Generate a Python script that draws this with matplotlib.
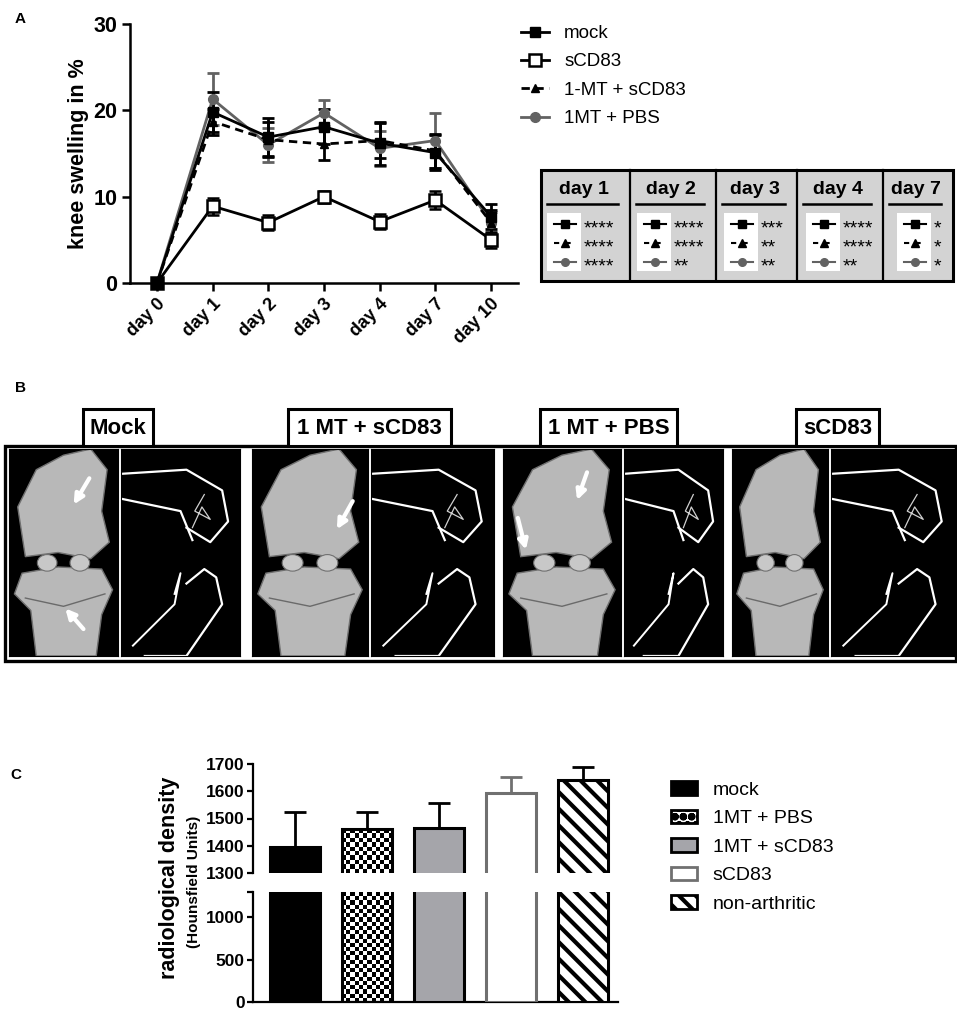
import matplotlib
matplotlib.use("Agg")
import matplotlib.pyplot as plt
from matplotlib.patches import Rectangle, Polygon, Ellipse, Patch
import numpy as np

plt.rcParams['font.family'] = ['Liberation Sans', 'DejaVu Sans']
plt.rcParams['hatch.linewidth'] = 3.0

# ---- data: panel A (knee swelling) ----
days = ['day 0', 'day 1', 'day 2', 'day 3', 'day 4', 'day 7', 'day 10']
mock = [0, 19.8, 16.9, 18.1, 16.2, 15.1, 7.7]
mock_err = [0, 2.3, 2.2, 2.0, 2.5, 2.0, 1.5]
scd83 = [0, 8.9, 7.0, 10.0, 7.1, 9.6, 5.0]
scd83_err = [0, 1.0, 0.9, 0.7, 0.9, 1.0, 0.9]
mt_scd83 = [0, 18.7, 16.6, 16.1, 16.5, 15.3, 7.0]
mt_scd83_err = [0, 1.5, 2.0, 1.8, 2.0, 2.0, 1.5]
mt_pbs = [0, 21.3, 16.0, 19.7, 15.6, 16.5, 7.0]
mt_pbs_err = [0, 3.0, 2.0, 1.5, 2.0, 3.2, 1.2]

# significance table
sig_days = ['day 1', 'day 2', 'day 3', 'day 4', 'day 7']
sig_mock = ['****', '****', '***', '****', '*']
sig_mt_scd83 = ['****', '****', '**', '****', '*']
sig_mt_pbs = ['****', '**', '**', '**', '*']

# ---- panel B labels ----
ct_groups = ['Mock', '1 MT + sCD83', '1 MT + PBS', 'sCD83']

# ---- data: panel C (radiological density) ----
groups_c = ['mock', '1MT + PBS', '1MT + sCD83', 'sCD83', 'non-arthritic']
density = [1395, 1461, 1465, 1594, 1641]
density_err = [128, 63, 92, 58, 48]

W, H = 957, 1010
fig = plt.figure(figsize=(W / 100, H / 100), dpi=100)


def pax(x0, y0, x1, y1, **kw):
    return fig.add_axes([x0 / W, 1 - y1 / H, (x1 - x0) / W, (y1 - y0) / H], **kw)


ov = pax(0, 0, W, H)
ov.set_xlim(0, W)
ov.set_ylim(H, 0)
ov.axis('off')

# panel letters
for letter, (x, y) in zip('ABC', [(20, 19), (20, 388), (16, 775)]):
    ov.text(x, y, letter, fontsize=11, fontweight='bold', ha='center', va='center')

# ================= Panel A =================
axA = pax(130, 24, 518, 283)
xs = np.arange(len(days))
gray = '#626262'
ebkw = dict(capsize=4.5, capthick=2, elinewidth=2, clip_on=False)
e_pbs = axA.errorbar(xs, mt_pbs, yerr=mt_pbs_err, color=gray, marker='o', ms=7,
                     lw=2, **ebkw)
e_mts = axA.errorbar(xs, mt_scd83, yerr=mt_scd83_err, color='black', marker='^', ms=6,
                     lw=2, ls=(0, (3, 2)), **ebkw)
e_scd = axA.errorbar(xs, scd83, yerr=scd83_err, color='black', marker='s', ms=8,
                     mfc='white', mew=1.8, lw=2, **ebkw)
e_mock = axA.errorbar(xs, mock, yerr=mock_err, color='black', marker='s', ms=7,
                      lw=2, **ebkw)
axA.set_xlim(-0.485, 6.485)
axA.set_ylim(0, 30)
axA.set_yticks([0, 10, 20, 30])
axA.set_xticks(xs)
axA.set_xticklabels(days, rotation=45, ha='right', rotation_mode='anchor',
                    fontsize=13, fontweight='bold')
for lab in axA.get_yticklabels():
    lab.set_fontsize(15.5)
    lab.set_fontweight('bold')
for s in ['top', 'right']:
    axA.spines[s].set_visible(False)
for s in ['left', 'bottom']:
    axA.spines[s].set_linewidth(1.8)
axA.tick_params(width=1.8, length=6, direction='out', pad=3)
axA.set_ylabel('knee swelling in %', fontsize=15.5, fontweight='bold')
axA.yaxis.set_label_coords(-0.105, 0.5)

fig.legend([e_mock.lines[0], e_scd.lines[0], e_mts.lines[0], e_pbs.lines[0]],
           ['mock', 'sCD83', '1-MT + sCD83', '1MT + PBS'],
           loc='upper left', bbox_to_anchor=(521 / W, 1 - 25 / H), frameon=False,
           fontsize=13.5, handlelength=1.5, handletextpad=0.8, labelspacing=0.6,
           borderpad=0, borderaxespad=0)

# significance table
cols = [541, 630, 716, 797, 883, 953]
tb_top, tb_bot = 170, 281
box_left = [547, 637, 724, 806, 897]
ov.add_patch(Rectangle((cols[0], tb_top), cols[-1] - cols[0], tb_bot - tb_top,
                       facecolor='#d3d3d3', edgecolor='black', lw=2.2, zorder=1))
for c in cols[1:-1]:
    ov.plot([c, c], [tb_top, tb_bot], color='black', lw=1.6, zorder=2)
row_y = [224, 243, 262]
for i, d in enumerate(sig_days):
    l, r = cols[i], cols[i + 1]
    ov.text((l + r) / 2 - 2, 190, d, fontsize=14, fontweight='bold',
            ha='center', va='center', zorder=3)
    ov.plot([l + 6, r - 12], [204, 204], color='black', lw=1.8, zorder=3)
    bl = box_left[i]
    ov.add_patch(Rectangle((bl, 213), 34, 58, facecolor='white', edgecolor='none', zorder=2))
    ov.plot([bl + 7, bl + 29], [row_y[0]] * 2, color='black', lw=1.5, zorder=3)
    ov.plot([bl + 18], [row_y[0]], marker='s', ms=5.5, color='black', zorder=4)
    ov.plot([bl + 7, bl + 29], [row_y[1]] * 2, color='black', lw=1.5,
            ls=(0, (2.5, 3)), zorder=3)
    ov.plot([bl + 18], [row_y[1]], marker='^', ms=5.5, color='black', zorder=4)
    ov.plot([bl + 7, bl + 29], [row_y[2]] * 2, color=gray, lw=1.5, zorder=3)
    ov.plot([bl + 18], [row_y[2]], marker='o', ms=5.5, color=gray, zorder=4)
    for y, s in zip(row_y, [sig_mock[i], sig_mt_scd83[i], sig_mt_pbs[i]]):
        ov.text(bl + 37, y + 5, s, fontsize=14, ha='left', va='center', zorder=4)

# ================= Panel B =================
label_boxes = [(83, 153), (288, 451), (540, 677), (796, 879)]
for name, (x0, x1) in zip(ct_groups, label_boxes):
    ov.add_patch(Rectangle((x0, 409), x1 - x0, 37, facecolor='white',
                           edgecolor='black', lw=2.2, zorder=2))
    ov.text((x0 + x1) / 2, 428, name, fontsize=16, fontweight='bold',
            ha='center', va='center', zorder=3)
ov.add_patch(Rectangle((5, 446), 951, 215, facecolor='white', edgecolor='black',
                       lw=2.4, zorder=1))

img_pairs = [((9, 118), (121, 240)), ((252, 368), (371, 494)),
             ((503, 621), (624, 723)), ((732, 828), (831, 954))]
bone = '#b8b8b8'
bone_edge = '#707070'


def draw_3d(ax, arrows):
    femur = Polygon([(0.15, 0.48), (0.08, 0.72), (0.25, 0.9), (0.5, 0.97), (0.75, 1.0),
                     (0.9, 0.9), (0.85, 0.7), (0.92, 0.55), (0.75, 0.47), (0.45, 0.5)],
                    facecolor=bone, edgecolor=bone_edge, lw=1)
    tibia = Polygon([(0.25, 0.0), (0.2, 0.22), (0.05, 0.3), (0.12, 0.4), (0.45, 0.43),
                     (0.85, 0.42), (0.95, 0.32), (0.85, 0.2), (0.8, 0.0)],
                    facecolor=bone, edgecolor=bone_edge, lw=1)
    ax.add_patch(tibia)
    ax.add_patch(femur)
    for cx in (0.35, 0.65):
        ax.add_patch(Ellipse((cx, 0.45), 0.18, 0.08, facecolor='#c8c8c8',
                             edgecolor=bone_edge, lw=0.8))
    ax.plot([0.15, 0.5, 0.88], [0.28, 0.24, 0.3], color='#6a6a6a', lw=1)
    for (tx, ty), (fx, fy) in arrows:
        ax.annotate('', xy=(tx, ty), xytext=(fx, fy),
                    arrowprops=dict(arrowstyle='-|>', color='white', lw=3,
                                    mutation_scale=14))


def draw_section(ax):
    ax.plot([0.0, 0.55, 0.85, 0.9, 0.75, 0.55], [0.88, 0.9, 0.8, 0.65, 0.55, 0.62],
            color='white', lw=1.6)
    ax.plot([0.0, 0.5, 0.6], [0.76, 0.7, 0.56], color='white', lw=1.6)
    ax.plot([0.55, 0.7, 0.8, 0.85, 0.55, 0.2], [0.35, 0.42, 0.38, 0.25, 0.0, 0.0],
            color='white', lw=1.6)
    ax.plot([0.45, 0.5, 0.45, 0.1], [0.3, 0.4, 0.25, 0.05], color='white', lw=1.4)
    ax.plot([0.6, 0.68, 0.75, 0.62, 0.7], [0.62, 0.72, 0.66, 0.7, 0.78],
            color='#d0d0d0', lw=0.9)


arrow_sets = [[((0.58, 0.72), (0.75, 0.87)), ((0.5, 0.24), (0.7, 0.12))],
              [((0.72, 0.6), (0.88, 0.76))],
              [((0.62, 0.74), (0.72, 0.9)), ((0.2, 0.5), (0.12, 0.68))],
              []]
for (p3d, psec), arrs in zip(img_pairs, arrow_sets):
    a1 = pax(p3d[0], 449, p3d[1], 656, facecolor='black')
    a1.set_xlim(0, 1)
    a1.set_ylim(0, 1)
    a1.set_xticks([])
    a1.set_yticks([])
    draw_3d(a1, arrs)
    a2 = pax(psec[0], 449, psec[1], 656, facecolor='black')
    a2.set_xlim(0, 1)
    a2.set_ylim(0, 1)
    a2.set_xticks([])
    a2.set_yticks([])
    draw_section(a2)

# ================= Panel C =================
axCu = pax(253, 764, 618, 873)
axCl = pax(253, 892, 618, 1002)
xc = np.arange(len(groups_c))
fills = ['black', 'none', '#a5a5aa', 'white', 'white']
edges = ['black', 'black', 'black', '#707070', 'black']
hatches = [None, None, None, None, '\\\\']
err_cols = ['black', 'black', 'black', '#707070', 'black']
bw = 0.70

for ax, (lo, hi) in [(axCu, (1300, 1700)), (axCl, (0, 1300))]:
    ax.set_xlim(-0.58, 4.49)
    ax.set_ylim(lo, hi)
    bars = ax.bar(xc, density, width=bw, color=fills, edgecolor=edges, linewidth=2.2,
                  zorder=3)
    for b, h in zip(bars, hatches):
        if h:
            b.set_hatch(h)
    # checkerboard fill for the 1MT + PBS bar
    b2 = bars[1]
    top = min(density[1], hi)
    p0 = ax.transData.transform((0, lo))
    p1 = ax.transData.transform((bw, top))
    ncol = max(2, int(round((p1[0] - p0[0]) / 4.2)))
    nrow = max(2, int(round((p1[1] - p0[1]) / 4.2)))
    checker = np.indices((nrow, ncol)).sum(axis=0) % 2
    im = ax.imshow(checker, cmap='gray', extent=(xc[1] - bw / 2, xc[1] + bw / 2, lo, top),
                   aspect='auto', interpolation='nearest', zorder=2)
    im.set_clip_path(b2)
    ax.set_xlim(-0.58, 4.49)
    ax.set_ylim(lo, hi)
    ax.set_xticks([])
    for s in ['top', 'right']:
        ax.spines[s].set_visible(False)
    ax.spines['left'].set_linewidth(1.6)
    ax.spines['bottom'].set_linewidth(1.6)
    ax.tick_params(axis='y', width=1.6, length=4, pad=2)

for i in xc:
    axCu.errorbar(xc[i], density[i], yerr=[[0], [density_err[i]]], color=err_cols[i],
                  capsize=8, capthick=2, elinewidth=2, fmt='none', zorder=2)

axCu.spines['bottom'].set_visible(False)
axCu.set_yticks([1300, 1400, 1500, 1600, 1700])
axCl.set_yticks([0, 500, 1000, 1300])
axCl.set_yticklabels(['0', '500', '1000', ''])
for ax in (axCu, axCl):
    for lab in ax.get_yticklabels():
        lab.set_fontsize(12.5)
        lab.set_fontweight('bold')

ov.text(169, 878, 'radiological density', rotation=90, fontsize=15.5, fontweight='bold',
        ha='center', va='center')
ov.text(194, 882, '(Hounsfield Units)', rotation=90, fontsize=11, fontweight='bold',
        ha='center', va='center')

leg_handles = [Patch(facecolor=f if f != 'none' else 'white', edgecolor=e, hatch=h, lw=2)
               for f, e, h in zip(fills, edges, hatches)]
leg_handles[1] = Patch(facecolor='white', edgecolor='black', hatch='oo', lw=2)
fig.legend(leg_handles, groups_c, loc='upper left', bbox_to_anchor=(671 / W, 1 - 781 / H),
           frameon=False, fontsize=14, handlelength=1.35, handleheight=0.7,
           handletextpad=0.8, labelspacing=0.56, borderpad=0, borderaxespad=0)

fig.savefig('out.png', dpi=100)
